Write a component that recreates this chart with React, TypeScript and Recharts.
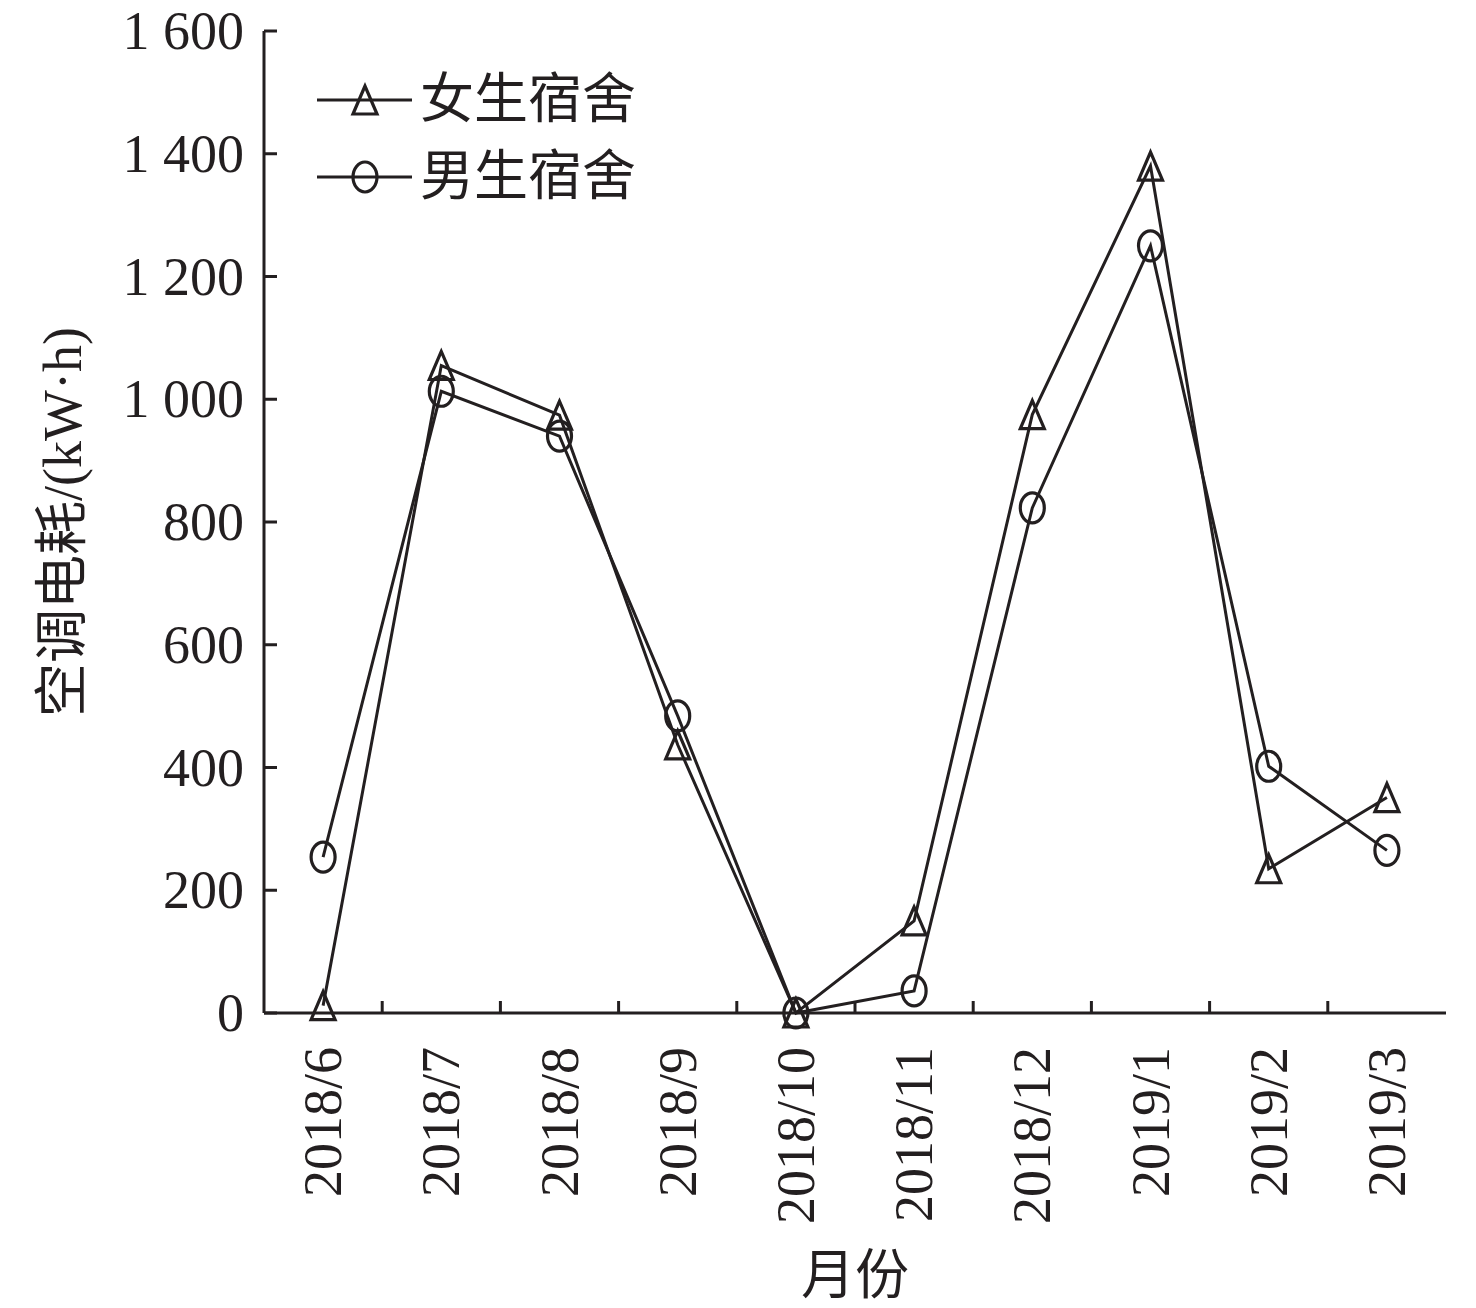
import React from "react";
import {
  LineChart,
  Line,
  XAxis,
  YAxis,
  Legend,
} from "recharts";

const months = [
  "2018/6",
  "2018/7",
  "2018/8",
  "2018/9",
  "2018/10",
  "2018/11",
  "2018/12",
  "2019/1",
  "2019/2",
  "2019/3",
];
const femaleDorm = [12, 1055, 974, 437, 0, 150, 975, 1380, 235, 351];
const maleDorm = [254, 1013, 940, 484, 0, 36, 823, 1250, 402, 265];
const yTicks = [0, 200, 400, 600, 800, 1000, 1200, 1400, 1600];

const data = months.map((m, i) => ({
  month: m,
  female: femaleDorm[i],
  male: maleDorm[i],
}));

const INK = "#231f20";
const FONT = "'Liberation Serif', 'Noto Sans CJK SC', serif";
const FS = 54;
const W = 1476;
const H = 1308;
const LEFT = 264;
const RIGHT = 30;
const TOP = 31;
const BOTTOM = 295;
const STEP = (W - LEFT - RIGHT) / months.length;

const fmt = (v: number) =>
  v >= 1000 ? `${Math.floor(v / 1000)} ${String(v % 1000).padStart(3, "0")}` : String(v);

function Triangle({ cx, cy }: { cx: number; cy: number }) {
  return (
    <polygon
      points={`${cx},${cy - 14} ${cx - 12},${cy + 14} ${cx + 12},${cy + 14}`}
      fill="none"
      stroke={INK}
      strokeWidth={3.2}
      strokeLinejoin="miter"
    />
  );
}

function Ring({ cx, cy }: { cx: number; cy: number }) {
  return <ellipse cx={cx} cy={cy} rx={12} ry={15} fill="none" stroke={INK} strokeWidth={3.2} />;
}

function YTick({ x, y, payload }: any) {
  return (
    <g>
      <line x1={x} x2={x + 13} y1={y} y2={y} stroke={INK} strokeWidth={3} />
      <text
        x={x - 20}
        y={y}
        textAnchor="end"
        dominantBaseline="central"
        fontFamily={FONT}
        fontSize={FS}
        fill={INK}
      >
        {fmt(payload.value)}
      </text>
    </g>
  );
}

function XTick({ x, y, payload, index }: any) {
  const ty = y + 34;
  return (
    <g>
      {index < months.length - 1 && (
        <line x1={x + STEP / 2} x2={x + STEP / 2} y1={y} y2={y - 12} stroke={INK} strokeWidth={3} />
      )}
      <text
        x={x}
        y={ty}
        transform={`rotate(-90, ${x}, ${ty})`}
        textAnchor="end"
        dominantBaseline="central"
        fontFamily={FONT}
        fontSize={FS}
        fill={INK}
      >
        {payload.value}
      </text>
    </g>
  );
}

function LegendBox({ payload }: any) {
  const rows = payload || [];
  return (
    <svg width={360} height={160} style={{ display: "block" }}>
      {rows.map((item: any, i: number) => {
        const cy = 38 + i * 77;
        return (
          <g key={item.value}>
            <line x1={7} x2={102} y1={cy} y2={cy} stroke={INK} strokeWidth={3} />
            {item.dataKey === "female" ? <Triangle cx={55} cy={cy} /> : <Ring cx={55} cy={cy} />}
            <text
              x={110}
              y={cy}
              dominantBaseline="central"
              fontFamily={FONT}
              fontSize={54}
              fill={INK}
            >
              {item.value}
            </text>
          </g>
        );
      })}
    </svg>
  );
}

export default function App() {
  return (
    <div style={{ position: "absolute", left: 0, top: 0, width: W, height: H, background: "#fff" }}>
      <LineChart
        width={W}
        height={H}
        data={data}
        margin={{ top: TOP, right: RIGHT, left: 0, bottom: 0 }}
      >
        <XAxis
          dataKey="month"
          height={BOTTOM}
          interval={0}
          padding={{ left: STEP / 2, right: STEP / 2 }}
          tickSize={0}
          tickMargin={0}
          tickLine={false}
          axisLine={{ stroke: INK, strokeWidth: 3 }}
          tick={<XTick />}
          label={{
            content: ({ viewBox }: any) => (
              <text
                x={viewBox.x + viewBox.width / 2}
                y={viewBox.y + 263}
                textAnchor="middle"
                dominantBaseline="central"
                fontFamily={FONT}
                fontSize={FS}
                fill={INK}
              >
                月份
              </text>
            ),
          }}
        />
        <XAxis
          xAxisId="top"
          dataKey="month"
          orientation="top"
          height={0}
          padding={{ left: STEP / 2, right: STEP / 2 }}
          tick={false}
          tickLine={false}
          axisLine={{ stroke: INK, strokeWidth: 3 }}
        />
        <YAxis
          width={LEFT}
          domain={[0, 1600]}
          ticks={yTicks}
          interval={0}
          tickSize={0}
          tickMargin={0}
          tickLine={false}
          axisLine={{ stroke: INK, strokeWidth: 3 }}
          tick={<YTick />}
          label={{
            content: ({ viewBox }: any) => {
              const cx = viewBox.x + 63;
              const cy = viewBox.y + viewBox.height / 2;
              return (
                <text
                  x={cx}
                  y={cy}
                  transform={`rotate(-90, ${cx}, ${cy})`}
                  textAnchor="middle"
                  dominantBaseline="central"
                  fontFamily={FONT}
                  fontSize={FS}
                  fill={INK}
                >
                  空调电耗/(kW·h)
                </text>
              );
            },
          }}
        />
        <YAxis
          yAxisId="right"
          orientation="right"
          width={0}
          domain={[0, 1600]}
          tick={false}
          tickLine={false}
          axisLine={{ stroke: INK, strokeWidth: 3 }}
        />
        <Legend
          layout="vertical"
          align="center"
          verticalAlign="middle"
          wrapperStyle={{ left: 310, top: 62, width: 360 }}
          content={<LegendBox />}
        />
        <Line
          dataKey="female"
          name="女生宿舍"
          stroke={INK}
          strokeWidth={3}
          isAnimationActive={false}
          activeDot={false}
          dot={(p: any) => <Triangle key={`f-${p.index}`} cx={p.cx} cy={p.cy} />}
        />
        <Line
          dataKey="male"
          name="男生宿舍"
          stroke={INK}
          strokeWidth={3}
          isAnimationActive={false}
          activeDot={false}
          dot={(p: any) => <Ring key={`m-${p.index}`} cx={p.cx} cy={p.cy} />}
        />
      </LineChart>
    </div>
  );
}
